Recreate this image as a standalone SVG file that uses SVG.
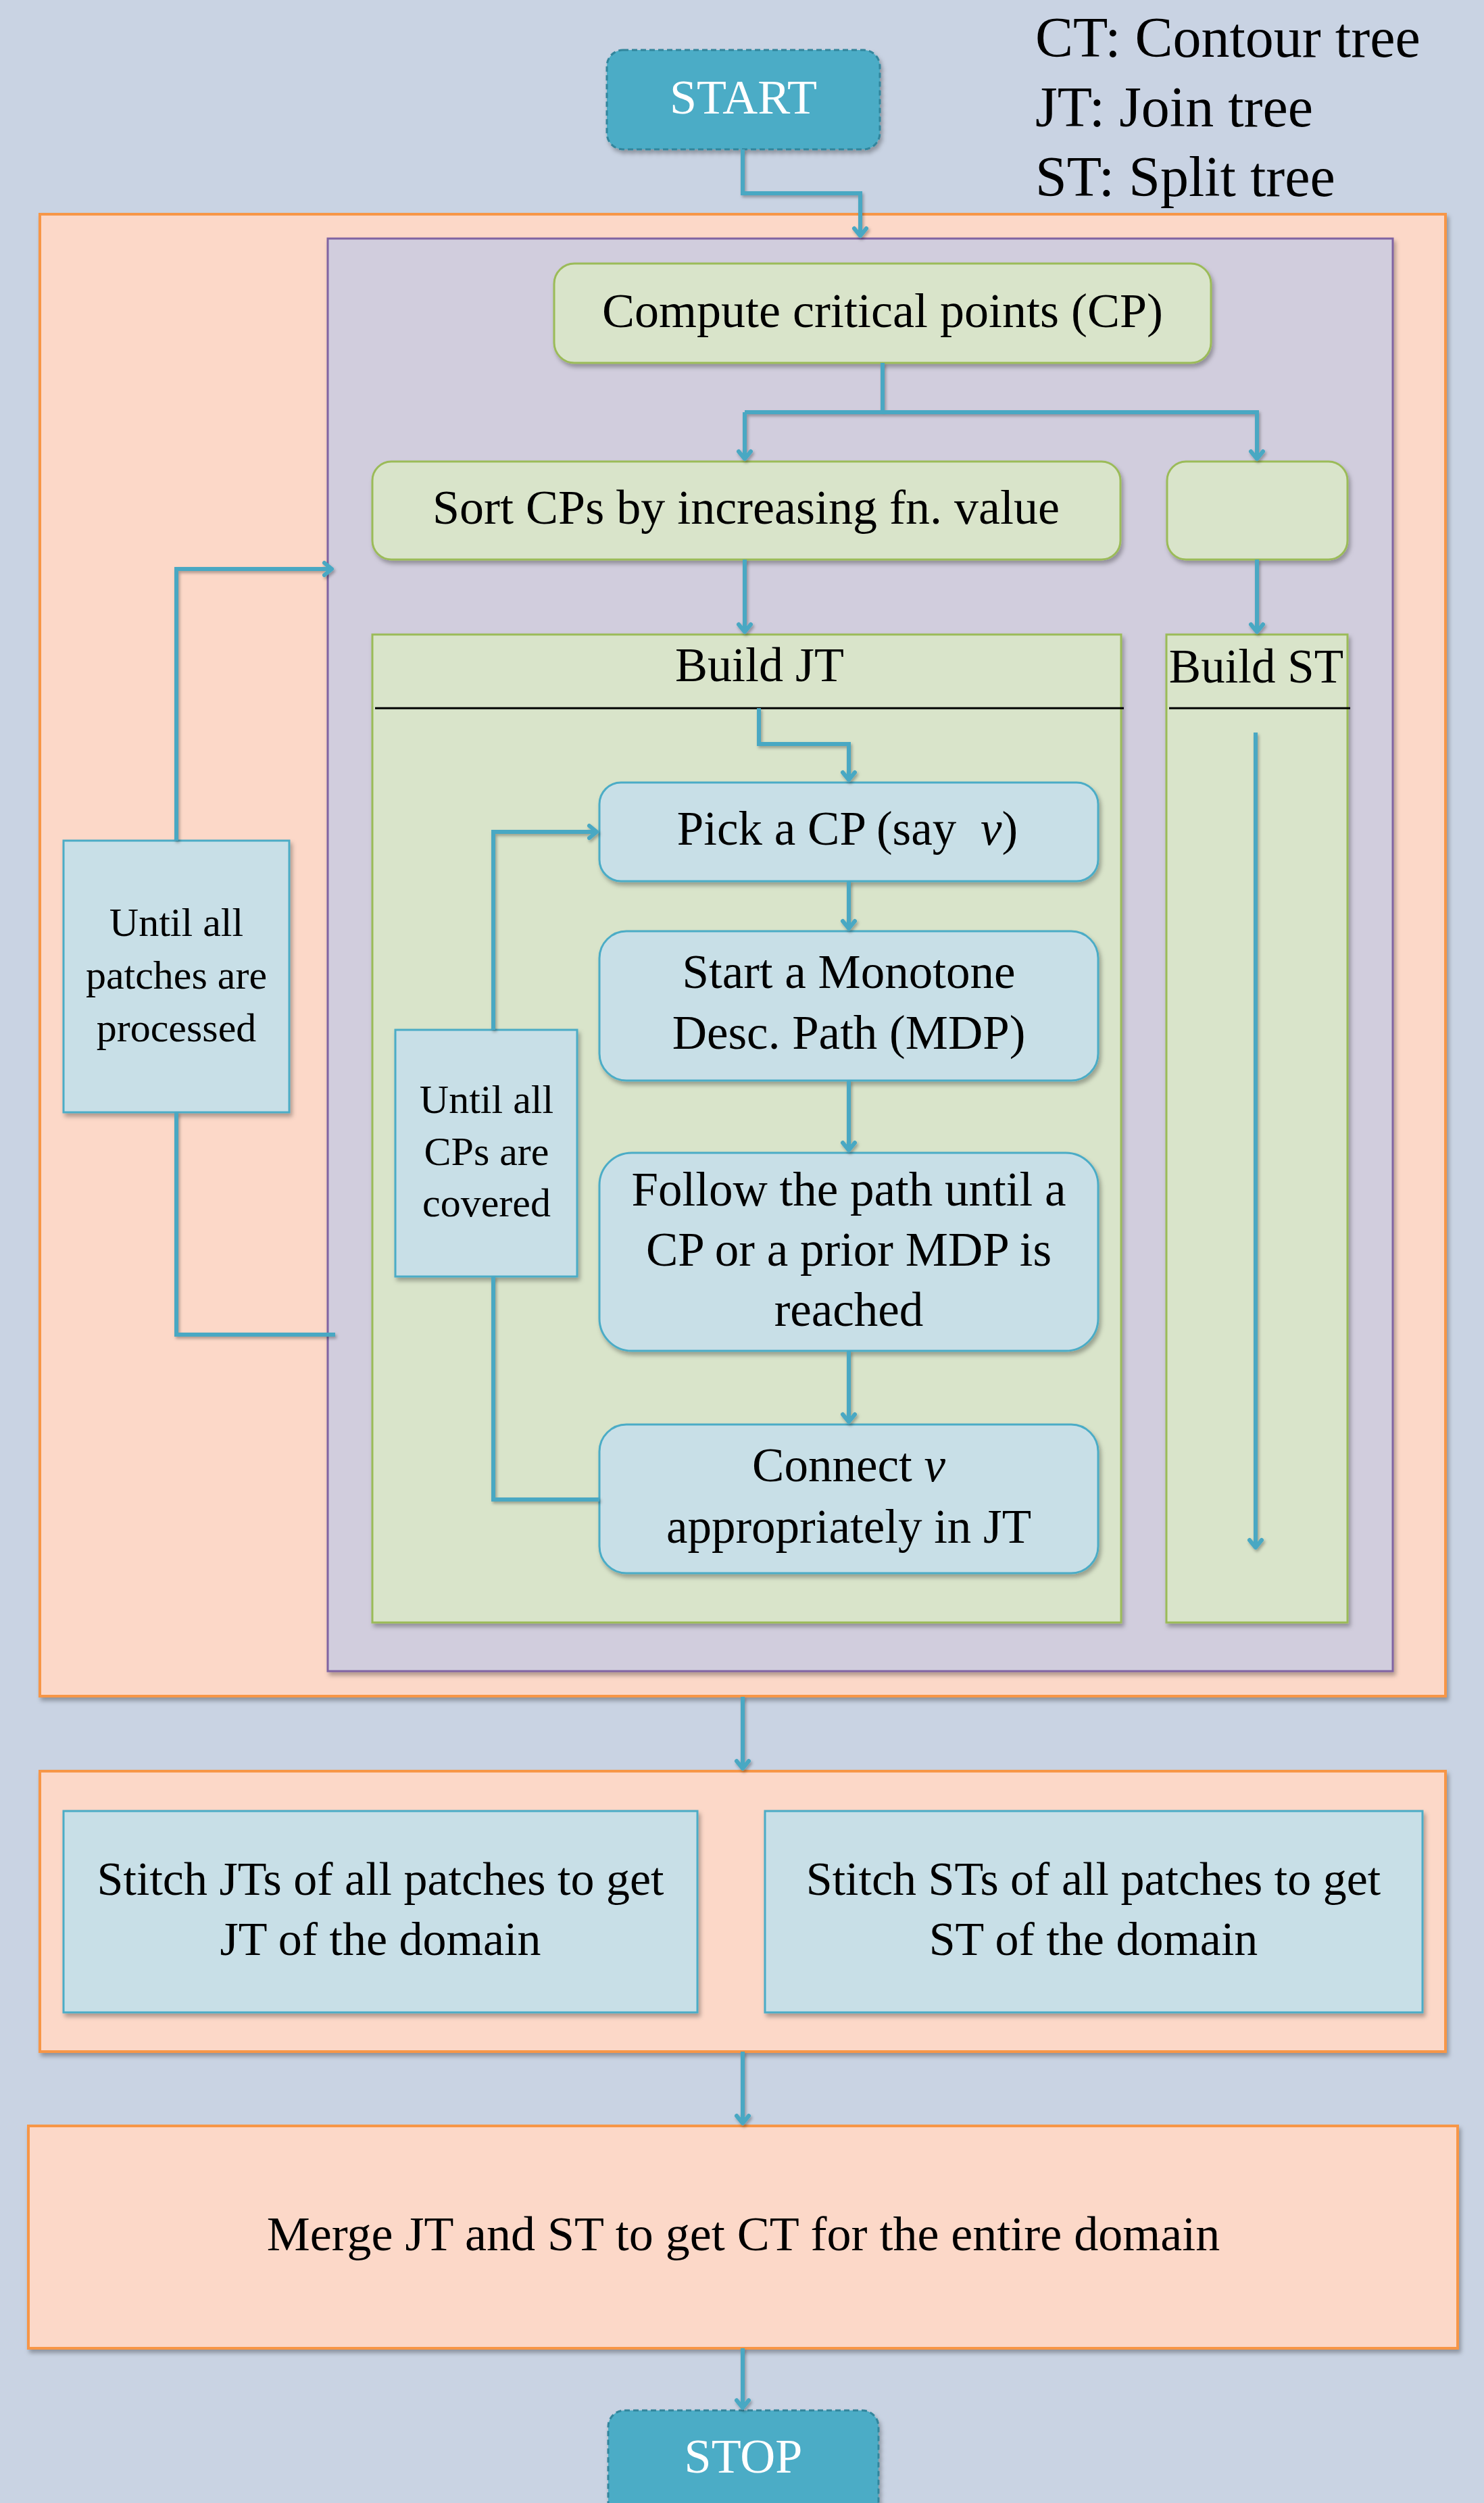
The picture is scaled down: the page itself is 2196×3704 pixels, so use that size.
<svg xmlns="http://www.w3.org/2000/svg" width="2196" height="3704" viewBox="0 0 2196 3704">
<style>
.t{font-family:"Liberation Serif","Times New Roman",serif;fill:#000;text-anchor:middle}
.l{text-anchor:start}
.w{fill:#fff}
.orange{fill:#FCD8C8;stroke:#F79646;stroke-width:4}
.purple{fill:#D1CDDD;stroke:#8064A2;stroke-width:3}
.green{fill:#D9E4CA;stroke:#9BBB59;stroke-width:3}
.blue{fill:#C8DFE7;stroke:#4BACC6;stroke-width:3}
.term{fill:#4BACC6;stroke:#31859C;stroke-width:3;stroke-dasharray:8 5}
.c{fill:none;stroke:#48A8C3;stroke-width:6}
.ca{fill:none;stroke:#48A8C3;stroke-width:6;marker-end:url(#arr)}
</style>
<defs>
<filter id="sh" x="-5%" y="-5%" width="110%" height="115%">
<feDropShadow dx="3" dy="5" stdDeviation="3" flood-color="#000" flood-opacity="0.3"/>
</filter>
<filter id="lsh" x="-10%" y="-10%" width="120%" height="120%">
<feDropShadow dx="2" dy="3" stdDeviation="2" flood-color="#000" flood-opacity="0.3"/>
</filter>
<marker id="arr" viewBox="-16 -14 20 28" refX="0" refY="0" markerWidth="20" markerHeight="28" markerUnits="userSpaceOnUse" orient="auto">
<path d="M-11,-9 L0,0 L-11,9" fill="none" stroke="#48A8C3" stroke-width="6" stroke-linecap="round" stroke-linejoin="round"/>
</marker>
</defs>
<rect x="0" y="0" width="2196" height="3704" fill="#C9D3E3"/>

<g id="legend">
<text class="t l" x="1532" y="84" font-size="84">CT: Contour tree</text>
<text class="t l" x="1532" y="187" font-size="84">JT: Join tree</text>
<text class="t l" x="1532" y="290" font-size="84">ST: Split tree</text>
</g>

<g id="start">
<rect class="term" x="898" y="74" width="404" height="147" rx="24" filter="url(#sh)"/>
<text class="t w" x="1100" y="168" font-size="72">START</text>
</g>

<g id="patch-loop-container">
<rect class="orange" x="59" y="317" width="2080" height="2193" filter="url(#sh)"/>
</g>
<g id="patch-container">
<rect class="purple" x="485" y="353" width="1576" height="2120" filter="url(#sh)"/>
</g>

<g id="compute-cp">
<rect class="green" x="820" y="390" width="972" height="147" rx="30" filter="url(#sh)"/>
<text class="t" x="1306" y="484" font-size="72">Compute critical points (CP)</text>
</g>

<g id="sort-cp">
<rect class="green" x="551" y="683" width="1107" height="145" rx="28" filter="url(#sh)"/>
<text class="t" x="1104" y="775" font-size="72">Sort CPs by increasing fn. value</text>
</g>

<g id="blank-box">
<rect class="green" x="1727" y="683" width="267" height="145" rx="28" filter="url(#sh)"/>
</g>

<g id="build-jt">
<rect class="green" x="551" y="939" width="1108" height="1462" filter="url(#sh)"/>
<text class="t" x="1124" y="1008" font-size="72">Build JT</text>
<line x1="555" y1="1048" x2="1663" y2="1048" stroke="#000" stroke-width="3"/>
</g>

<g id="build-st">
<rect class="green" x="1726" y="939" width="268" height="1462" filter="url(#sh)"/>
<text class="t" x="1859" y="1010" font-size="71">Build ST</text>
<line x1="1730" y1="1048" x2="1998" y2="1048" stroke="#000" stroke-width="3"/>
</g>

<g id="until-patches">
<rect class="blue" x="94" y="1244" width="334" height="402" filter="url(#sh)"/>
<text class="t" x="261" y="1385" font-size="60">Until all</text>
<text class="t" x="261" y="1463" font-size="60">patches are</text>
<text class="t" x="261" y="1541" font-size="60">processed</text>
</g>

<g id="until-cps">
<rect class="blue" x="585" y="1524" width="269" height="365" filter="url(#sh)"/>
<text class="t" x="720" y="1647" font-size="60">Until all</text>
<text class="t" x="720" y="1724" font-size="60">CPs are</text>
<text class="t" x="720" y="1800" font-size="60">covered</text>
</g>

<g id="pick-cp">
<rect class="blue" x="887" y="1158" width="738" height="146" rx="32" filter="url(#sh)"/>
<text class="t" x="1254" y="1250" font-size="71">Pick a CP (say <tspan dx="18" font-style="italic">v</tspan>)</text>
</g>

<g id="start-mdp">
<rect class="blue" x="887" y="1378" width="738" height="221" rx="40" filter="url(#sh)"/>
<text class="t" x="1256" y="1462" font-size="71">Start a Monotone</text>
<text class="t" x="1256" y="1552" font-size="71">Desc. Path (MDP)</text>
</g>

<g id="follow-path">
<rect class="blue" x="887" y="1706" width="738" height="293" rx="48" filter="url(#sh)"/>
<text class="t" x="1256" y="1784" font-size="71">Follow the path until a</text>
<text class="t" x="1256" y="1873" font-size="71">CP or a prior MDP is</text>
<text class="t" x="1256" y="1962" font-size="71">reached</text>
</g>

<g id="connect-v">
<rect class="blue" x="887" y="2108" width="738" height="220" rx="40" filter="url(#sh)"/>
<text class="t" x="1256" y="2192" font-size="71">Connect <tspan font-style="italic">v</tspan></text>
<text class="t" x="1256" y="2283" font-size="71">appropriately in JT</text>
</g>

<g id="stitch-container">
<rect class="orange" x="59" y="2621" width="2080" height="415" filter="url(#sh)"/>
</g>

<g id="stitch-jt">
<rect class="blue" x="94" y="2680" width="938" height="298" filter="url(#sh)"/>
<text class="t" x="563" y="2804" font-size="70">Stitch JTs of all patches to get</text>
<text class="t" x="563" y="2893" font-size="70">JT of the domain</text>
</g>

<g id="stitch-st">
<rect class="blue" x="1132" y="2680" width="973" height="298" filter="url(#sh)"/>
<text class="t" x="1618" y="2804" font-size="70">Stitch STs of all patches to get</text>
<text class="t" x="1618" y="2893" font-size="70">ST of the domain</text>
</g>

<g id="merge">
<rect class="orange" x="42" y="3146" width="2115" height="329" filter="url(#sh)"/>
<text class="t" x="1100" y="3330" font-size="72">Merge JT and ST to get CT for the entire domain</text>
</g>

<g id="stop">
<rect class="term" x="900" y="3567" width="400" height="180" rx="24" filter="url(#sh)"/>
<text class="t w" x="1100" y="3659" font-size="72">STOP</text>
</g>

<g id="connectors" filter="url(#lsh)">
<path class="ca" d="M1099,221 V286 H1273 V349"/>
<path class="c" d="M1306,537 V610"/>
<path class="ca" d="M1102,610 H1860 V679"/>
<path class="ca" d="M1102,610 V679"/>
<path class="ca" d="M1102,828 V935"/>
<path class="ca" d="M1860,828 V935"/>
<path class="ca" d="M1858,1084 V2290"/>
<path class="ca" d="M1123,1048 V1101 H1256 V1154"/>
<path class="ca" d="M1256,1304 V1374"/>
<path class="ca" d="M1256,1599 V1702"/>
<path class="ca" d="M1256,1999 V2104"/>
<path class="c" d="M887,2219 H730 V1889"/>
<path class="ca" d="M730,1524 V1231 H883"/>
<path class="c" d="M496,1975 H261 V1646"/>
<path class="ca" d="M261,1244 V842 H491"/>
<path class="ca" d="M1099,2511 V2617"/>
<path class="ca" d="M1099,3036 V3142"/>
<path class="ca" d="M1099,3475 V3563"/>
</g>
</svg>
